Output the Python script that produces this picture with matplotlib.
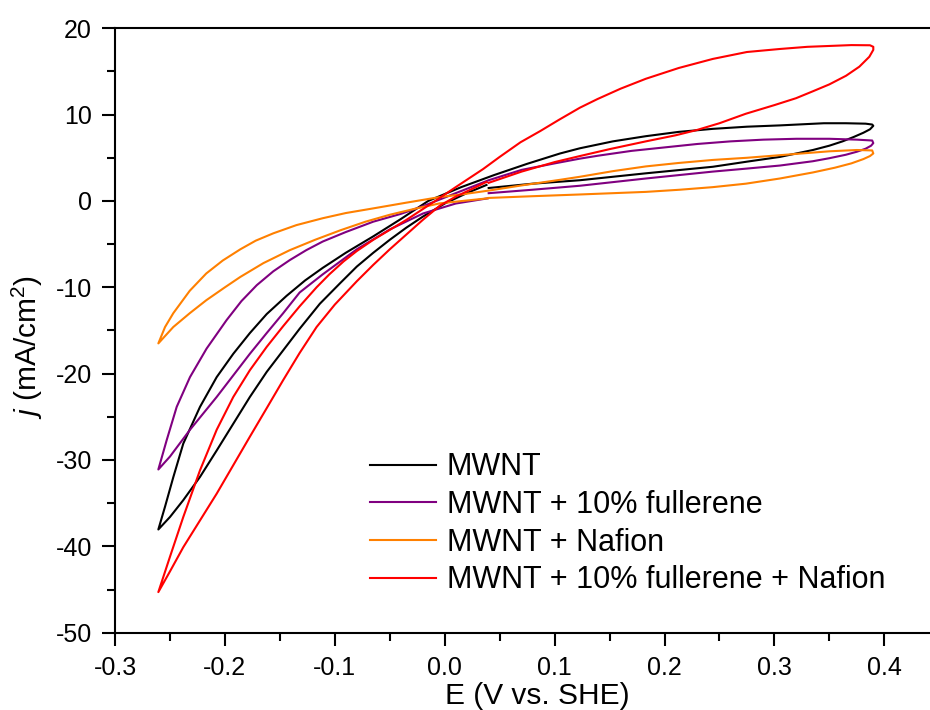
import matplotlib
matplotlib.use("Agg")
import matplotlib.pyplot as plt
from matplotlib.ticker import MultipleLocator, FormatStrFormatter

plt.rcParams['font.family'] = ['Liberation Sans', 'DejaVu Sans']
plt.rcParams['mathtext.fontset'] = 'custom'
plt.rcParams['mathtext.rm'] = 'Liberation Sans'
plt.rcParams['mathtext.it'] = 'Liberation Sans:italic'
plt.rcParams['axes.unicode_minus'] = False

# CV loops: start at 0.04 V, forward to 0.39 V, reverse to -0.26 V, back to 0.04 V
mwnt_E = [0.04, 0.08, 0.123, 0.183, 0.244, 0.275, 0.305, 0.32, 0.335, 0.35, 0.362, 0.372,
          0.381, 0.387, 0.39,
          0.389, 0.383, 0.365, 0.345, 0.305, 0.275, 0.244, 0.213, 0.183, 0.153, 0.123,
          0.105, 0.075, 0.045, 0.015, -0.015, -0.04, -0.065, -0.09, -0.111, -0.127,
          -0.144, -0.162, -0.1773, -0.1924, -0.2075, -0.2227, -0.2379, -0.247, -0.2545, -0.2606,
          -0.25, -0.2379, -0.2227, -0.2075, -0.1924, -0.1773, -0.162, -0.147, -0.132,
          -0.1136, -0.095, -0.08, -0.065, -0.05, -0.035, -0.0197, 0.0, 0.02, 0.038]
mwnt_j = [1.5, 2.0, 2.4, 3.2, 3.96, 4.55, 5.1, 5.5, 5.9, 6.4, 6.9, 7.4,
          7.9, 8.3, 8.7,
          8.85, 8.95, 9.0, 9.0, 8.75, 8.6, 8.35, 8.0, 7.5, 6.9, 6.1,
          5.5, 4.3, 3.0, 1.6, 0.0, -2.1, -4.1, -6.0, -7.75, -9.2,
          -11.0, -13.1, -15.3, -17.7, -20.4, -23.85, -28.1, -32.0, -35.4, -38.05,
          -36.6, -34.65, -31.96, -28.9, -25.8, -22.7, -19.8, -17.3, -14.8,
          -11.9, -9.5, -7.6, -6.0, -4.5, -3.1, -1.8, -0.3, 0.9, 1.85]

fuller_E = [0.04, 0.08, 0.123, 0.183, 0.244, 0.275, 0.305, 0.335, 0.35, 0.365, 0.375,
            0.383, 0.388, 0.39,
            0.389, 0.375, 0.35, 0.32, 0.29, 0.26, 0.23, 0.2, 0.17, 0.14, 0.123, 0.1,
            0.07, 0.04, 0.01, -0.0197, -0.04, -0.065, -0.09, -0.111, -0.126, -0.141,
            -0.156, -0.171, -0.185, -0.1985, -0.2167, -0.2318, -0.2439, -0.253, -0.2606,
            -0.25, -0.2318, -0.2075, -0.1773, -0.162, -0.147, -0.132, -0.111, -0.08,
            -0.05, -0.0197, 0.01, 0.039]
fuller_j = [0.9, 1.3, 1.76, 2.6, 3.4, 3.75, 4.1, 4.6, 4.95, 5.35, 5.7,
            6.05, 6.4, 6.7,
            7.0, 7.1, 7.2, 7.2, 7.1, 6.9, 6.6, 6.2, 5.8, 5.25, 4.9, 4.35,
            3.6, 2.4, 0.9, -0.6, -1.5, -2.4, -3.6, -4.7, -5.7, -6.85,
            -8.15, -9.75, -11.6, -13.8, -17.1, -20.4, -23.85, -27.7, -31.1,
            -29.6, -26.5, -22.7, -17.7, -15.3, -13.0, -10.6, -8.5, -5.6,
            -3.3, -1.45, -0.3, 0.3]

nafion_E = [0.04, 0.08, 0.123, 0.153, 0.183, 0.214, 0.244, 0.274, 0.305, 0.335, 0.355,
            0.37, 0.381, 0.387, 0.39,
            0.389, 0.375, 0.35, 0.305, 0.275, 0.244, 0.213, 0.183, 0.153, 0.123, 0.105,
            0.07, 0.04, 0.015, -0.0045, -0.035, -0.065, -0.09, -0.111, -0.135, -0.156,
            -0.172, -0.186, -0.202, -0.217, -0.232, -0.247, -0.2545, -0.2606,
            -0.247, -0.232, -0.217, -0.2, -0.186, -0.165, -0.141, -0.118, -0.095,
            -0.072, -0.05, -0.027, -0.0045, 0.02, 0.039]
nafion_j = [0.35, 0.55, 0.75, 0.9, 1.05, 1.3, 1.6, 2.0, 2.6, 3.3, 3.85,
            4.35, 4.85, 5.2, 5.5,
            5.85, 5.9, 5.75, 5.3, 5.0, 4.75, 4.4, 4.0, 3.45, 2.8, 2.45,
            1.8, 1.2, 0.75, 0.45, -0.2, -0.86, -1.4, -2.0, -2.8, -3.75,
            -4.6, -5.6, -6.9, -8.4, -10.4, -13.0, -14.6, -16.5,
            -14.6, -13.0, -11.5, -10.0, -8.8, -7.2, -5.7, -4.5, -3.4,
            -2.4, -1.6, -0.9, -0.28, 0.05, 0.3]

both_E = [0.04, 0.07, 0.10, 0.123, 0.15, 0.183, 0.21, 0.229, 0.25, 0.274, 0.3, 0.3197,
          0.335, 0.35, 0.3652, 0.3773, 0.3864, 0.39,
          0.39, 0.387, 0.37, 0.35, 0.33, 0.305, 0.275, 0.244, 0.213, 0.183, 0.16,
          0.139, 0.123, 0.104, 0.087, 0.069, 0.05, 0.035, 0.01, -0.011, -0.035,
          -0.065, -0.08, -0.092, -0.105, -0.1166, -0.132, -0.147, -0.162, -0.1773,
          -0.1924, -0.2075, -0.2227, -0.2379, -0.25, -0.2606,
          -0.25, -0.2379, -0.2227, -0.2075, -0.1924, -0.1773, -0.162, -0.147, -0.132,
          -0.1166, -0.10, -0.08, -0.065, -0.05, -0.035, -0.02, -0.0045, 0.01, 0.025, 0.038]
both_j = [2.1, 3.4, 4.5, 5.2, 6.0, 6.9, 7.6, 8.2, 9.0, 10.1, 11.1, 11.9,
          12.7, 13.5, 14.5, 15.55, 16.7, 17.5,
          17.85, 18.03, 18.05, 17.95, 17.85, 17.6, 17.25, 16.45, 15.4, 14.15, 13.0,
          11.8, 10.8, 9.4, 8.1, 6.8, 5.1, 3.7, 1.6, -0.2, -2.2,
          -4.5, -5.8, -7.0, -8.5, -10.0, -12.2, -14.5, -16.9, -19.6,
          -22.7, -26.5, -31.2, -36.6, -41.2, -45.3,
          -42.9, -40.1, -37.0, -33.9, -30.6, -27.3, -24.0, -20.75, -17.6,
          -14.6, -12.0, -9.3, -7.4, -5.6, -3.9, -2.2, -0.55, 0.5, 1.4, 2.2]

labels = ['MWNT', 'MWNT + 10% fullerene', 'MWNT + Nafion', 'MWNT + 10% fullerene + Nafion']
colors = ['#000000', '#800080', '#FF8000', '#FF0000']

fig = plt.figure(figsize=(9.3, 7.1), dpi=100)
# the original frame runs past the right edge of the picture
ax = fig.add_axes([0.1237, 0.1089, 0.9075, 0.8513])

series = [(mwnt_E, mwnt_j), (fuller_E, fuller_j), (nafion_E, nafion_j), (both_E, both_j)]
for (E, j), lab, c in zip(series, labels, colors):
    ax.plot(E, j, color=c, lw=1.5, label=lab)

ax.set_xlim(-0.3, 0.468)
ax.set_ylim(-50, 20)
ax.xaxis.set_major_locator(MultipleLocator(0.1))
ax.xaxis.set_minor_locator(MultipleLocator(0.05))
ax.yaxis.set_major_locator(MultipleLocator(10))
ax.yaxis.set_minor_locator(MultipleLocator(5))
ax.xaxis.set_major_formatter(FormatStrFormatter('%.1f'))

ax.spines['right'].set_visible(False)
for s in ['left', 'bottom', 'top']:
    ax.spines[s].set_linewidth(1.5)
ax.tick_params(which='major', direction='out', length=9.5, width=1.5, labelsize=18, pad=7)
ax.tick_params(which='minor', direction='out', length=5.5, width=1.5)
ax.tick_params(which='both', top=False, right=False)

ax.set_xlabel('E (V vs. SHE)', fontsize=21.5, labelpad=2)
ax.set_ylabel(r'$\it{j}$ (mA/cm$^{2}$)', fontsize=21.5, labelpad=8)
ax.yaxis.label.set_y(0.473)

ax.legend(loc='upper left', bbox_to_anchor=(0.398, 0.3627), bbox_transform=fig.transFigure,
          frameon=False, fontsize=22, handlelength=2.16, handletextpad=0.35,
          labelspacing=0.25, borderpad=0, borderaxespad=0)

fig.savefig('out.png', dpi=100)
